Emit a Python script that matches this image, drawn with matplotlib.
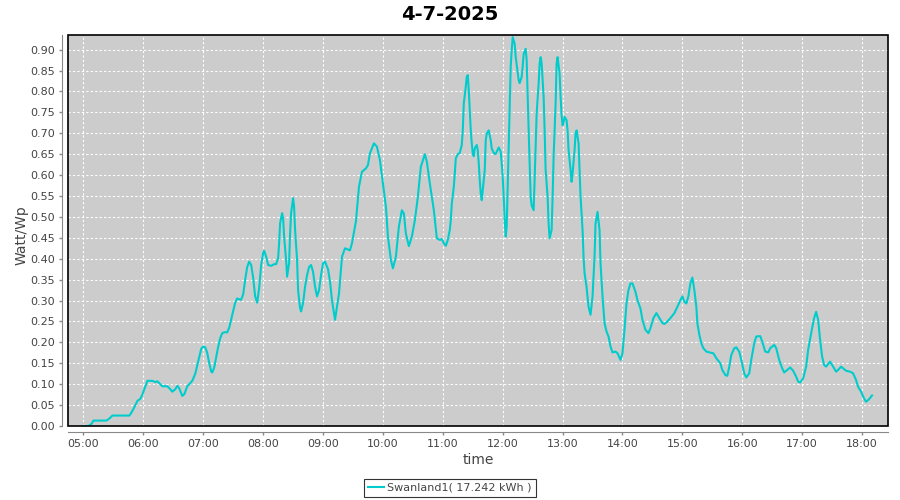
import matplotlib
matplotlib.use('Agg')
import matplotlib.pyplot as plt
import matplotlib.dates as mdates
from matplotlib.patches import Rectangle
from matplotlib.ticker import MultipleLocator, FormatStrFormatter
import pandas as pd

title = '4-7-2025'
series_name = 'Swanland1( 17.242 kWh )'

# minutes since midnight
minutes = [299, 305, 308, 310, 323, 326, 329, 346, 348, 351,
           354, 357, 359, 362, 364, 369, 372, 374, 377, 379,
           384, 387, 389, 392, 394, 396, 399, 401, 404, 406,
           409, 412, 414, 416, 418, 420, 422, 424, 426, 428,
           429, 431, 433, 435, 437, 439, 441, 444, 446, 449,
           452, 454, 456, 458, 460, 462, 464, 466, 468, 470,
           472, 474, 476, 478, 480, 481, 483, 485, 488, 491,
           493, 495, 496, 497, 499, 500, 501, 503, 504, 506,
           507, 508, 510, 511, 512, 514, 515, 517, 518, 520,
           522, 524, 526, 528, 530, 532, 534, 536, 538, 540,
           542, 545, 547, 549, 552, 556, 559, 562, 567, 569,
           573, 576, 579, 583, 585, 587, 591, 594, 597, 600,
           603, 605, 608, 610, 613, 616, 619, 621, 623, 626,
           629, 632, 635, 638, 642, 644, 647, 651, 654, 657,
           659, 661, 663, 665, 667, 668, 669, 671, 672, 673,
           675, 677, 679, 680, 681, 683, 684, 685, 686, 687,
           688, 689, 690, 691, 692, 694, 695, 696, 697, 698,
           699, 700, 702, 703, 704, 706, 708, 709, 711, 713,
           714, 716, 718, 719, 720, 721, 722, 723, 724, 725,
           726, 727, 728, 729, 730, 732, 733, 735, 736, 737,
           739, 740, 741, 743, 744, 745, 746, 747, 748, 749,
           751, 752, 753, 754, 756, 757, 758, 759, 761, 762,
           763, 765, 766, 767, 769, 770, 771, 773, 774, 775,
           777, 778, 779, 780, 781, 782, 784, 785, 786, 788,
           789, 790, 792, 793, 794, 796, 797, 798, 800, 801,
           802, 804, 806, 808, 810, 812, 813, 815, 817, 818,
           820, 822, 824, 826, 828, 830, 833, 835, 838, 840,
           842, 844, 846, 848, 850, 853, 855, 858, 860, 863,
           866, 868, 871, 874, 877, 880, 882, 885, 888, 892,
           895, 898, 900, 902, 904, 906, 908, 910, 912, 914,
           915, 917, 919, 921, 924, 927, 931, 934, 938, 940,
           943, 945, 947, 949, 952, 954, 957, 959, 962, 964,
           967, 969, 972, 974, 978, 980, 983, 986, 988, 992,
           994, 997, 1000, 1002, 1005, 1008, 1011, 1014, 1016, 1018,
           1021, 1024, 1026, 1029, 1032, 1034, 1036, 1038, 1040, 1042,
           1044, 1046, 1048, 1051, 1054, 1056, 1059, 1062, 1064, 1068,
           1071, 1074, 1076, 1079, 1082, 1084, 1087, 1090]

watt_wp = [0.0, 0.0, 0.005, 0.013, 0.013, 0.018, 0.025, 0.025, 0.032, 0.045,
           0.06, 0.065, 0.075, 0.095, 0.108, 0.108, 0.105, 0.107, 0.1, 0.095,
           0.095, 0.088, 0.082, 0.088, 0.096, 0.09, 0.072, 0.076, 0.095, 0.1,
           0.108, 0.125, 0.145, 0.165, 0.185, 0.19, 0.188, 0.175, 0.15, 0.13,
           0.128, 0.14, 0.165, 0.19, 0.21, 0.222, 0.224, 0.224, 0.235, 0.265,
           0.295, 0.305, 0.303, 0.302, 0.315, 0.35, 0.38, 0.393, 0.385, 0.355,
           0.31, 0.295, 0.33, 0.385, 0.413, 0.419, 0.405, 0.385, 0.383, 0.387,
           0.387, 0.401, 0.437, 0.485, 0.509, 0.497, 0.453, 0.397, 0.357, 0.389,
           0.461, 0.509, 0.545, 0.525, 0.469, 0.397, 0.325, 0.282, 0.274, 0.294,
           0.333, 0.361, 0.38, 0.385, 0.369, 0.333, 0.31, 0.325, 0.361, 0.389,
           0.393, 0.375, 0.345, 0.3, 0.254, 0.317, 0.405, 0.425, 0.42, 0.437,
           0.49, 0.572, 0.608, 0.616, 0.624, 0.652, 0.676, 0.668, 0.636, 0.58,
           0.524, 0.453, 0.397, 0.377, 0.405, 0.477, 0.516, 0.508, 0.46, 0.43,
           0.453, 0.492, 0.548, 0.62, 0.65, 0.632, 0.58, 0.516, 0.449, 0.445,
           0.447, 0.437, 0.431, 0.445, 0.469, 0.492, 0.532, 0.572, 0.604, 0.64,
           0.65, 0.653, 0.672, 0.707, 0.771, 0.811, 0.835, 0.839, 0.803, 0.755,
           0.707, 0.676, 0.652, 0.645, 0.664, 0.672, 0.66, 0.628, 0.588, 0.556,
           0.54, 0.564, 0.612, 0.683, 0.699, 0.707, 0.683, 0.664, 0.653, 0.65,
           0.656, 0.666, 0.656, 0.628, 0.596, 0.548, 0.492, 0.453, 0.477, 0.572,
           0.676, 0.763, 0.859, 0.898, 0.93, 0.914, 0.883, 0.847, 0.827, 0.82,
           0.835, 0.859, 0.89, 0.902, 0.875, 0.787, 0.707, 0.628, 0.548, 0.528,
           0.516, 0.588, 0.668, 0.747, 0.819, 0.867, 0.882, 0.867, 0.787, 0.707,
           0.612, 0.548, 0.484, 0.449, 0.469, 0.548, 0.644, 0.771, 0.867, 0.882,
           0.843, 0.787, 0.743, 0.719, 0.727, 0.739, 0.731, 0.707, 0.66, 0.612,
           0.584, 0.604, 0.66, 0.699, 0.707, 0.676, 0.612, 0.548, 0.469, 0.405,
           0.365, 0.333, 0.285, 0.266, 0.31, 0.405, 0.484, 0.512, 0.469, 0.389,
           0.31, 0.246, 0.226, 0.214, 0.19, 0.176, 0.178, 0.174, 0.158, 0.174,
           0.23, 0.293, 0.325, 0.341, 0.341, 0.321, 0.301, 0.281, 0.254, 0.23,
           0.222, 0.234, 0.258, 0.27, 0.258, 0.246, 0.244, 0.25, 0.258, 0.27,
           0.285, 0.301, 0.31, 0.297, 0.293, 0.31, 0.341, 0.355, 0.325, 0.285,
           0.246, 0.218, 0.198, 0.186, 0.178, 0.176, 0.174, 0.162, 0.15, 0.134,
           0.122, 0.12, 0.142, 0.17, 0.186, 0.188, 0.178, 0.158, 0.126, 0.116,
           0.126, 0.158, 0.198, 0.214, 0.215, 0.202, 0.178, 0.176, 0.186, 0.194,
           0.186, 0.158, 0.138, 0.128, 0.134, 0.14, 0.132, 0.118, 0.106, 0.104,
           0.114, 0.142, 0.182, 0.222, 0.258, 0.273, 0.254, 0.206, 0.166, 0.146,
           0.142, 0.148, 0.154, 0.142, 0.13, 0.134, 0.142, 0.136, 0.132, 0.13,
           0.126, 0.11, 0.094, 0.082, 0.066, 0.058, 0.064, 0.073]

day = pd.Timestamp('2025-07-04')
times = day + pd.to_timedelta(minutes, unit='m')

fig = plt.figure(figsize=(9, 5), dpi=100)
ax = fig.add_axes([68/900, 1 - 426/500, 820/900, 391/500])
ax.set_facecolor('#cccccc')

ax.plot(times, watt_wp, color='#00cccc', lw=1.5, label=series_name, zorder=3)

ax.set_xlim(day + pd.Timedelta(minutes=284.5), day + pd.Timedelta(minutes=1106))
ax.set_ylim(0, 0.935)
ax.yaxis.set_major_locator(MultipleLocator(0.05))
ax.yaxis.set_major_formatter(FormatStrFormatter('%.2f'))
ax.xaxis.set_major_locator(mdates.HourLocator())
ax.xaxis.set_major_formatter(mdates.DateFormatter('%H:%M'))

ax.grid(color='white', linestyle=(0, (2, 2)), linewidth=0.8)
ax.set_axisbelow(True)

# gray axis lines sit a few px outside the black plot border
for s in ['top', 'right']:
    ax.spines[s].set_visible(False)
for s in ['left', 'bottom']:
    ax.spines[s].set_position(('outward', 4))
    ax.spines[s].set_color('#888888')
ax.add_patch(Rectangle((0, 0), 1, 1, transform=ax.transAxes, fill=False,
                       edgecolor='black', lw=1.2, zorder=4, clip_on=False))

ax.tick_params(axis='both', colors='#888888', labelcolor='#444444',
               labelsize=8, length=2, width=1)

fig.text(0.5, 1 - 15/500, title, ha='center', va='center',
         fontsize=14, fontweight='bold')
fig.text(22/900, 1 - 235/500, 'Watt/Wp', rotation=90, ha='center', va='center',
         fontsize=10, color='#444444')
fig.text(478/900, 1 - 460/500, 'time', ha='center', va='center',
         fontsize=10, color='#444444')

leg = fig.legend(loc='lower center', bbox_to_anchor=(0.5, 0.002), fontsize=8,
                 frameon=True, fancybox=False, handlelength=1.4,
                 handletextpad=0.3, borderpad=0.35, borderaxespad=0.2)
leg.get_frame().set_edgecolor('black')
leg.get_frame().set_linewidth(0.8)
for t in leg.get_texts():
    t.set_color('#444444')

plt.savefig('out.png', dpi=100)
plt.close()
